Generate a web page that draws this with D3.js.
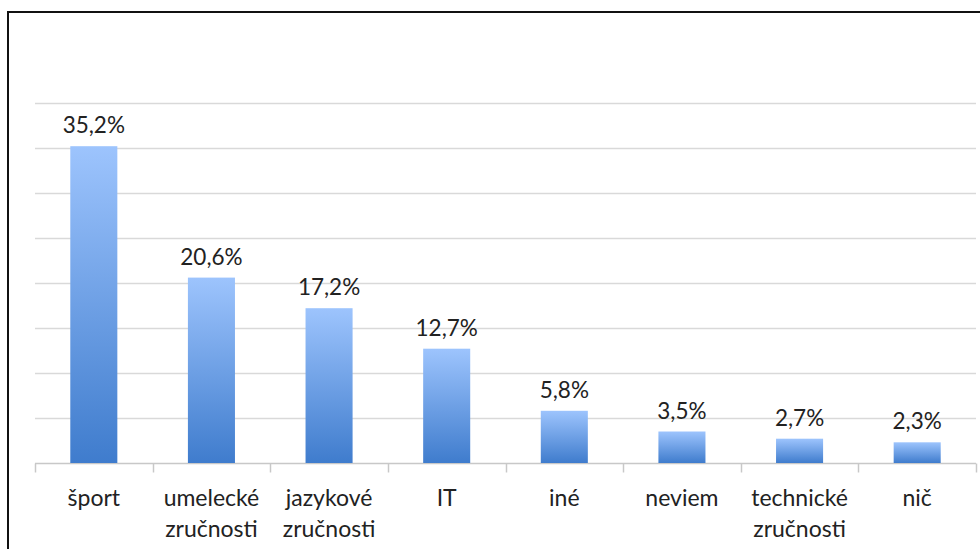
<!DOCTYPE html>
<html>
<head>
<meta charset="utf-8">
<script src="https://cdn.jsdelivr.net/npm/d3@7"></script>
<style>
  body { margin: 0; background: #fff; }
  svg { display: block; font-family: Lato, "Open Sans", sans-serif; }
</style>
</head>
<body>
<svg id="chart" width="980" height="549"></svg>
<script>
// Chart data
const categories = ["šport", "umelecké zručnosti", "jazykové zručnosti", "IT", "iné", "neviem", "technické zručnosti", "nič"];
const categoryLines = [["šport"], ["umelecké", "zručnosti"], ["jazykové", "zručnosti"], ["IT"], ["iné"], ["neviem"], ["technické", "zručnosti"], ["nič"]];
const values = [35.2, 20.6, 17.2, 12.7, 5.8, 3.5, 2.7, 2.3];
const gridTicks = [5, 10, 15, 20, 25, 30, 35, 40];

const svg = d3.select("#chart");

// frame around the chart (runs off the right and bottom edge)
svg.append("rect")
  .attr("x", 8).attr("y", 12)
  .attr("width", 1000).attr("height", 600)
  .attr("fill", "none")
  .attr("stroke", "#111")
  .attr("stroke-width", 2);

const plotLeft = 35, plotRight = 976, plotTop = 103, plotBottom = 463;

// SCALES
const xScale = d3.scaleBand()
  .domain(categories)
  .range([plotLeft, plotRight])
  .paddingInner(0)
  .paddingOuter(0);

const yScale = d3.scaleLinear()
  .domain([0, 40])
  .range([plotBottom, plotTop]);

// gradient for bars
const grad = svg.append("defs").append("linearGradient")
  .attr("id", "barGrad")
  .attr("x1", 0).attr("y1", 0).attr("x2", 0).attr("y2", 1);
grad.append("stop").attr("offset", "0%").attr("stop-color", "#9dc4fd");
grad.append("stop").attr("offset", "100%").attr("stop-color", "#3f7ccd");

// gridlines
svg.append("g")
  .selectAll("line")
  .data(gridTicks)
  .join("line")
  .attr("x1", plotLeft).attr("x2", plotRight)
  .attr("y1", (d) => Math.round(yScale(d)) + 0.5)
  .attr("y2", (d) => Math.round(yScale(d)) + 0.5)
  .attr("stroke", "#d9d9d9")
  .attr("stroke-width", 1.5);

// x axis
const xAxis = svg.append("g")
  .attr("transform", `translate(0,${plotBottom + 0.5})`);
xAxis.append("line")
  .attr("x1", plotLeft).attr("x2", plotRight)
  .attr("stroke", "#c8c8c8").attr("stroke-width", 1.5);
xAxis.selectAll(".tick")
  .data(categories.map((c) => xScale(c)).concat([plotRight]))
  .join("line")
  .attr("class", "tick")
  .attr("x1", (d) => Math.round(d) + 0.5)
  .attr("x2", (d) => Math.round(d) + 0.5)
  .attr("y1", 0).attr("y2", 9)
  .attr("stroke", "#c8c8c8").attr("stroke-width", 1.5);

// bars
const barW = xScale.bandwidth() * 0.4;
svg.append("g")
  .selectAll("rect")
  .data(values)
  .join("rect")
  .attr("x", (d, i) => xScale(categories[i]) + xScale.bandwidth() / 2 - barW / 2)
  .attr("y", (d) => yScale(d))
  .attr("width", barW)
  .attr("height", (d) => plotBottom - yScale(d))
  .attr("fill", "url(#barGrad)");

// value labels
svg.append("g")
  .selectAll("text")
  .data(values)
  .join("text")
  .attr("x", (d, i) => xScale(categories[i]) + xScale.bandwidth() / 2)
  .attr("y", (d) => yScale(d) - 13)
  .attr("text-anchor", "middle")
  .attr("font-size", 22.5)
  .attr("fill", "#222")
  .text((d) => d.toFixed(1).replace(".", ",") + "%");

// category labels
const catG = svg.append("g")
  .selectAll("text")
  .data(categories)
  .join("text")
  .attr("x", (d) => xScale(d) + xScale.bandwidth() / 2)
  .attr("y", 506)
  .attr("text-anchor", "middle")
  .attr("font-size", 23)
  .attr("fill", "#222");
catG.selectAll("tspan")
  .data((d, i) => categoryLines[i])
  .join("tspan")
  .attr("x", function () { return this.parentNode.getAttribute("x"); })
  .attr("dy", (d, i) => (i === 0 ? 0 : 31))
  .text((d) => d);
</script>
</body>
</html>
